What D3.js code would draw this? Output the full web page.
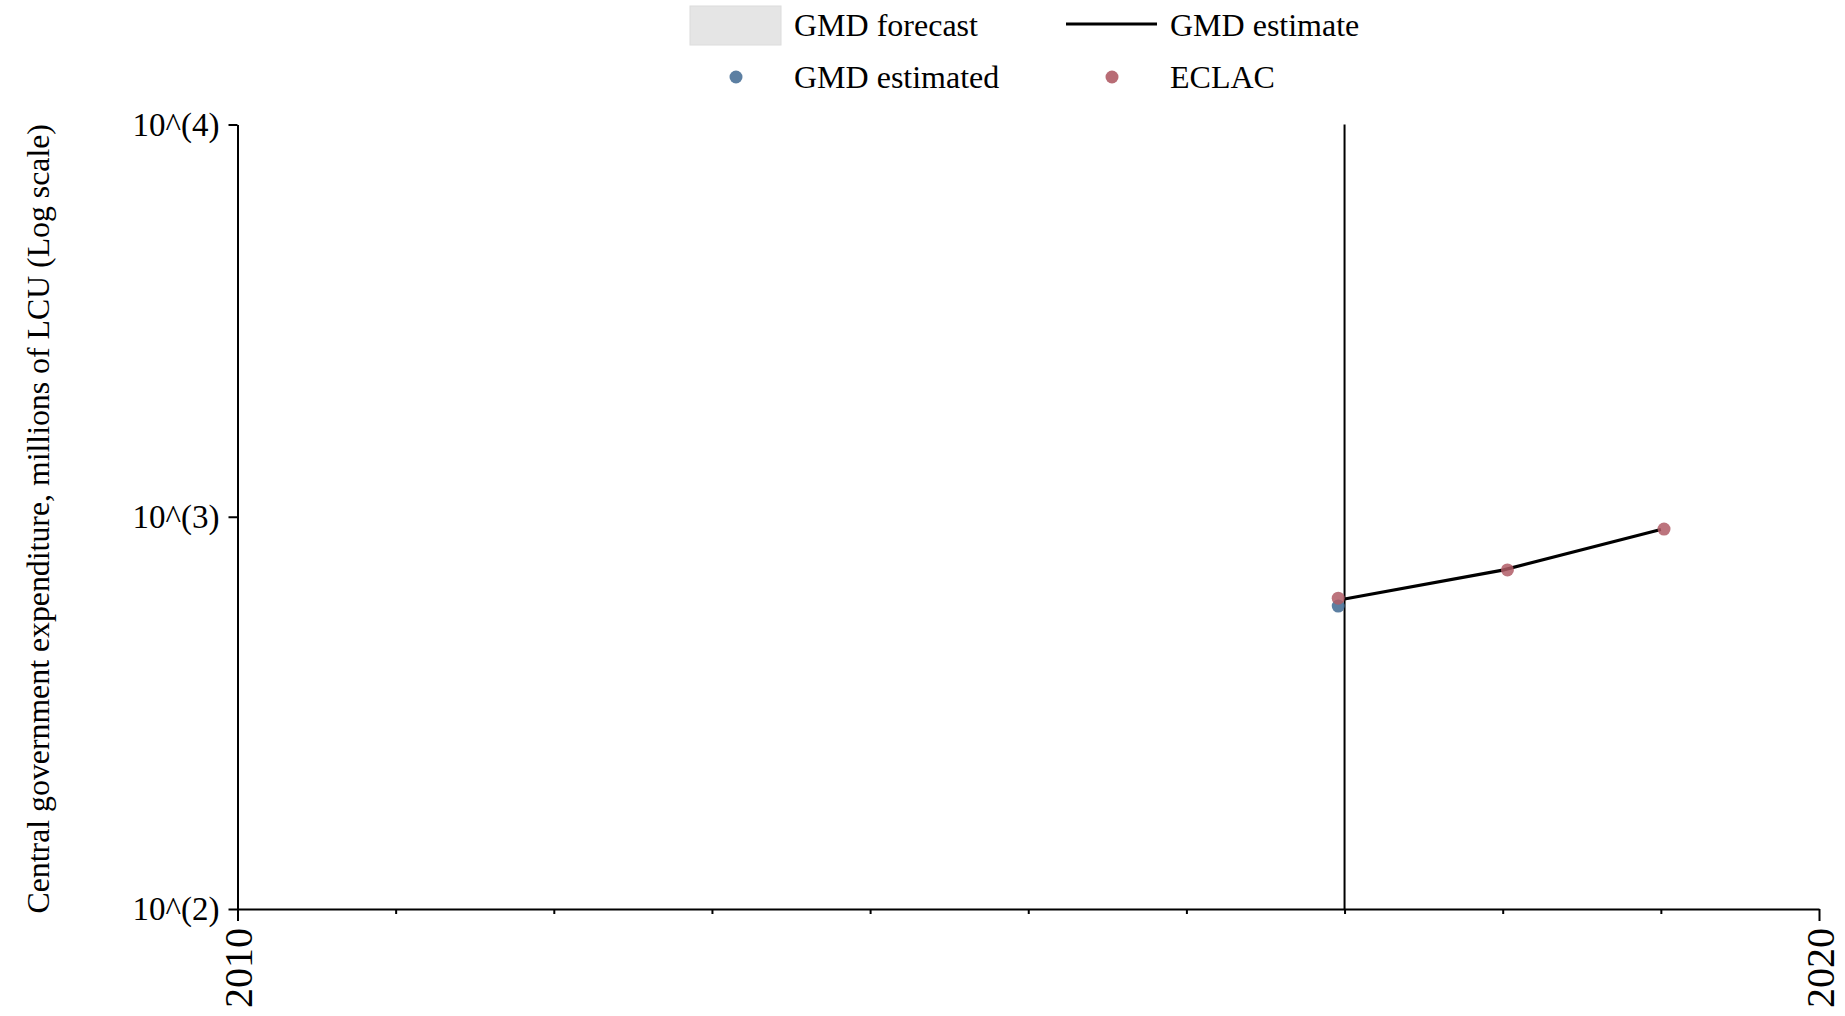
<!DOCTYPE html>
<html>
<head>
<meta charset="utf-8">
<script src="https://cdn.jsdelivr.net/npm/d3@7"></script>
<style>
  html, body { margin: 0; padding: 0; background: #fff; }
  svg { display: block; font-family: "Liberation Serif", "Times New Roman", serif; }
</style>
</head>
<body>
<svg id="chart" width="1845" height="1016"></svg>
<script>
// ---- data ----
const estimateYears = [2017, 2018, 2019];
const estimateValues = [617, 731, 928];
const gmdEstimatedYears = [2016.96];
const gmdEstimatedValues = [592];
const eclacYears = [2016.96, 2018.03, 2019.02];
const eclacValues = [620, 732, 930];
const forecastStartYear = 2017;
const yTickValues = [100, 1000, 10000];
const xMajorTicks = [2010, 2020];
const xMinorTicks = [2011, 2012, 2013, 2014, 2015, 2016, 2017, 2018, 2019];
const yTitle = "Central government expenditure, millions of LCU (Log scale)";
const legendItems = [
  { label: "GMD forecast", type: "rect" },
  { label: "GMD estimate", type: "line" },
  { label: "GMD estimated", type: "dot", color: "#4a7198" },
  { label: "ECLAC", type: "dot", color: "#b05c66" }
];

// ---- layout ----
const svg = d3.select("#chart");
const plotLeft = 237.5, plotRight = 1819, plotTop = 124.5, plotBottom = 909;
const x = d3.scaleLinear().domain([2010, 2020]).range([plotLeft, plotRight]);
const y = d3.scaleLog().domain([100, 10000]).range([plotBottom, plotTop]);

// y axis
const yAxis = svg.append("g").attr("transform", `translate(${plotLeft},0)`)
  .call(d3.axisLeft(y).tickValues(yTickValues).tickSize(9).tickSizeOuter(0).tickPadding(9)
    .tickFormat(d => `10^(${Math.round(Math.log10(d))})`));
yAxis.selectAll("path, line").attr("stroke", "#000").attr("stroke-width", 2);
yAxis.selectAll("text").attr("font-size", 33).attr("fill", "#000")
  .attr("font-family", "'Liberation Serif', 'Times New Roman', serif");

// x axis minor ticks
const xMinor = svg.append("g").attr("transform", `translate(0,${plotBottom})`)
  .call(d3.axisBottom(x).tickValues(xMinorTicks).tickSize(5).tickSizeOuter(0).tickFormat(""));
xMinor.selectAll("path, line").attr("stroke", "#000").attr("stroke-width", 2);

// x axis major ticks
const xMajor = svg.append("g").attr("transform", `translate(0,${plotBottom})`)
  .call(d3.axisBottom(x).tickValues(xMajorTicks).tickSize(12).tickSizeOuter(0).tickFormat(d3.format("d")));
xMajor.select("path").remove();
xMajor.selectAll("line").attr("stroke", "#000").attr("stroke-width", 2);
xMajor.selectAll("text")
  .attr("font-size", 40).attr("fill", "#000")
  .attr("font-family", "'Liberation Serif', 'Times New Roman', serif")
  .attr("transform", "rotate(-90)")
  .attr("text-anchor", "end")
  .attr("x", -19).attr("y", 0).attr("dy", "0.35em");

// y axis title
svg.append("text")
  .attr("transform", `translate(49,${(plotTop + plotBottom) / 2 + 2}) rotate(-90)`)
  .attr("text-anchor", "middle")
  .attr("font-size", 31.8)
  .attr("fill", "#000")
  .text(yTitle);

// forecast start vertical line
svg.append("line")
  .attr("x1", x(forecastStartYear)).attr("x2", x(forecastStartYear))
  .attr("y1", y(10000)).attr("y2", y(100))
  .attr("stroke", "#000").attr("stroke-width", 2);

// GMD estimate line
const lineData = estimateYears.map((yr, i) => ({ yr, v: estimateValues[i] }));
svg.append("path")
  .datum(lineData)
  .attr("fill", "none")
  .attr("stroke", "#000")
  .attr("stroke-width", 3.2)
  .attr("d", d3.line().x(d => x(d.yr)).y(d => y(d.v)));

// GMD estimated points
svg.append("g").selectAll("circle")
  .data(gmdEstimatedYears.map((yr, i) => ({ yr, v: gmdEstimatedValues[i] })))
  .join("circle")
  .attr("cx", d => x(d.yr)).attr("cy", d => y(d.v)).attr("r", 6.5)
  .attr("fill", legendItems[2].color).attr("fill-opacity", 0.9);

// ECLAC points
svg.append("g").selectAll("circle")
  .data(eclacYears.map((yr, i) => ({ yr, v: eclacValues[i] })))
  .join("circle")
  .attr("cx", d => x(d.yr)).attr("cy", d => y(d.v)).attr("r", 6.5)
  .attr("fill", legendItems[3].color).attr("fill-opacity", 0.85);

// legend
const legCols = [690, 1066];
const legRows = [25, 77];
const textOffset = 104;
legendItems.forEach((item, i) => {
  const cx = legCols[i % 2], cy = legRows[Math.floor(i / 2)];
  const g = svg.append("g");
  if (item.type === "rect") {
    g.append("rect").attr("x", cx).attr("y", cy - 19).attr("width", 91).attr("height", 39)
      .attr("fill", "#e5e5e5").attr("stroke", "#dcdcdc").attr("stroke-width", 1);
  } else if (item.type === "line") {
    g.append("line").attr("x1", cx).attr("x2", cx + 91).attr("y1", cy - 1).attr("y2", cy - 1)
      .attr("stroke", "#000").attr("stroke-width", 3);
  } else {
    g.append("circle").attr("cx", cx + 46).attr("cy", cy).attr("r", 6.5)
      .attr("fill", item.color).attr("fill-opacity", 0.9);
  }
  g.append("text").attr("x", cx + textOffset).attr("y", cy).attr("dy", "0.35em")
    .attr("font-size", 32).attr("fill", "#000").text(item.label);
});
</script>
</body>
</html>
